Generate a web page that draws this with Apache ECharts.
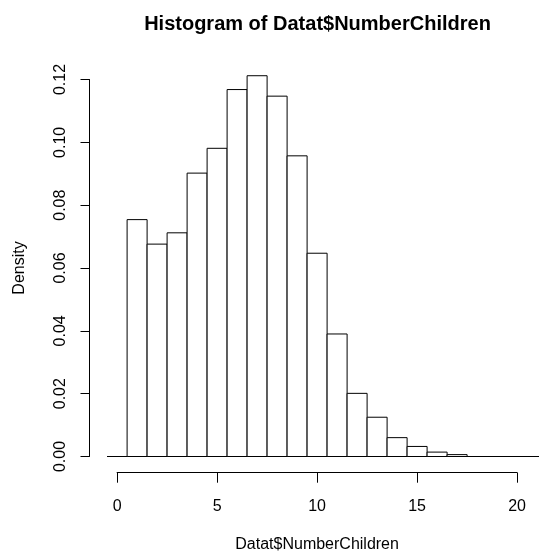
<!DOCTYPE html>
<html>
<head>
<meta charset="utf-8">
<script src="https://cdn.jsdelivr.net/npm/echarts@6/dist/echarts.min.js"></script>
<style>
  html, body { margin: 0; padding: 0; background: #ffffff; }
  #chart { width: 539px; height: 557px; }
</style>
</head>
<body>
<div id="chart"></div>
<script>
// Histogram of number of children: unit-width bins, density scale
const breaks = [-0.5, 0.5, 1.5, 2.5, 3.5, 4.5, 5.5, 6.5, 7.5, 8.5, 9.5, 10.5,
                11.5, 12.5, 13.5, 14.5, 15.5, 16.5, 17.5, 18.5, 19.5, 20.5, 21.5];
const densities = [0, 0.0754, 0.0676, 0.0712, 0.0902, 0.0981, 0.1168, 0.1212,
                   0.1147, 0.0957, 0.0647, 0.0390, 0.0201, 0.0125, 0.0060,
                   0.0032, 0.0014, 0.0006, 0, 0, 0, 0];
const xTicks = [0, 5, 10, 15, 20];
const yTicks = [0, 0.02, 0.04, 0.06, 0.08, 0.10, 0.12];

const titleText = 'Histogram of Datat$NumberChildren';
const xName = 'Datat$NumberChildren';
const yName = 'Density';

const FONT = '"Liberation Sans", Arial, sans-serif';

// rows: [left edge, right edge, density]
const binRows = densities.map((d, i) => [breaks[i], breaks[i + 1], d]);

// plot region: 20 px per unit on x, left edge at 89.5 px
const PX_PER_UNIT = 20;
const plotLeft = 89.5;
const xMin = breaks[0] - 0.04 * (breaks[breaks.length - 1] - breaks[0]);
const xMax = xMin + (539 - plotLeft) / PX_PER_UNIT;
const xOrigin = plotLeft + (0 - xMin) * PX_PER_UNIT;

const chart = echarts.init(document.getElementById('chart'), null, { renderer: 'canvas' });

chart.setOption({
  animation: false,
  backgroundColor: '#ffffff',
  title: {
    text: titleText,
    left: 312.5,
    textAlign: 'center',
    top: 9,
    textStyle: { fontFamily: FONT, fontSize: 20, fontWeight: 'bold', color: '#000' }
  },
  grid: [
    { left: plotLeft, right: 0, top: 79.5, bottom: 557 - 456.5, containLabel: false },
    { left: xOrigin, width: xTicks[xTicks.length - 1] * PX_PER_UNIT, top: 471.7, height: 1, containLabel: false }
  ],
  xAxis: [
    { type: 'value', gridIndex: 0, min: xMin, max: xMax, show: false },
    {
      type: 'value', gridIndex: 1,
      min: xTicks[0], max: xTicks[xTicks.length - 1], interval: 5,
      position: 'bottom',
      axisLine: { show: true, onZero: false, lineStyle: { color: '#000', width: 1 } },
      axisTick: { show: true, inside: false, length: 10, lineStyle: { color: '#000', width: 1 } },
      axisLabel: {
        show: true, margin: 26, color: '#000',
        fontFamily: FONT, fontSize: 16,
        formatter: v => String(v)
      },
      splitLine: { show: false },
      name: xName, nameLocation: 'middle', nameGap: 64,
      nameTextStyle: { fontFamily: FONT, fontSize: 16, color: '#000' }
    }
  ],
  yAxis: [
    {
      type: 'value', gridIndex: 0,
      min: yTicks[0], max: yTicks[yTicks.length - 1], interval: 0.02,
      position: 'left',
      axisLine: { show: true, onZero: false, lineStyle: { color: '#000', width: 1 } },
      axisTick: { show: true, inside: false, length: 9, lineStyle: { color: '#000', width: 1 } },
      axisLabel: {
        show: true, rotate: 90, margin: 21, color: '#000',
        fontFamily: FONT, fontSize: 16,
        formatter: v => v.toFixed(2)
      },
      splitLine: { show: false },
      name: yName, nameLocation: 'middle', nameGap: 62, nameRotate: 90,
      nameTextStyle: { fontFamily: FONT, fontSize: 16, color: '#000' }
    },
    { type: 'value', gridIndex: 1, show: false, min: 0, max: 1 }
  ],
  series: [{
    type: 'custom',
    xAxisIndex: 0,
    yAxisIndex: 0,
    clip: false,
    data: binRows,
    encode: { x: [0, 1], y: 2 },
    renderItem: function (params, api) {
      const topLeft = api.coord([api.value(0), api.value(2)]);
      const bottomRight = api.coord([api.value(1), 0]);
      return {
        type: 'rect',
        shape: {
          x: topLeft[0],
          y: topLeft[1],
          width: bottomRight[0] - topLeft[0],
          height: bottomRight[1] - topLeft[1]
        },
        style: { fill: '#ffffff', stroke: '#000000', lineWidth: 1 }
      };
    }
  }]
});
</script>
</body>
</html>
